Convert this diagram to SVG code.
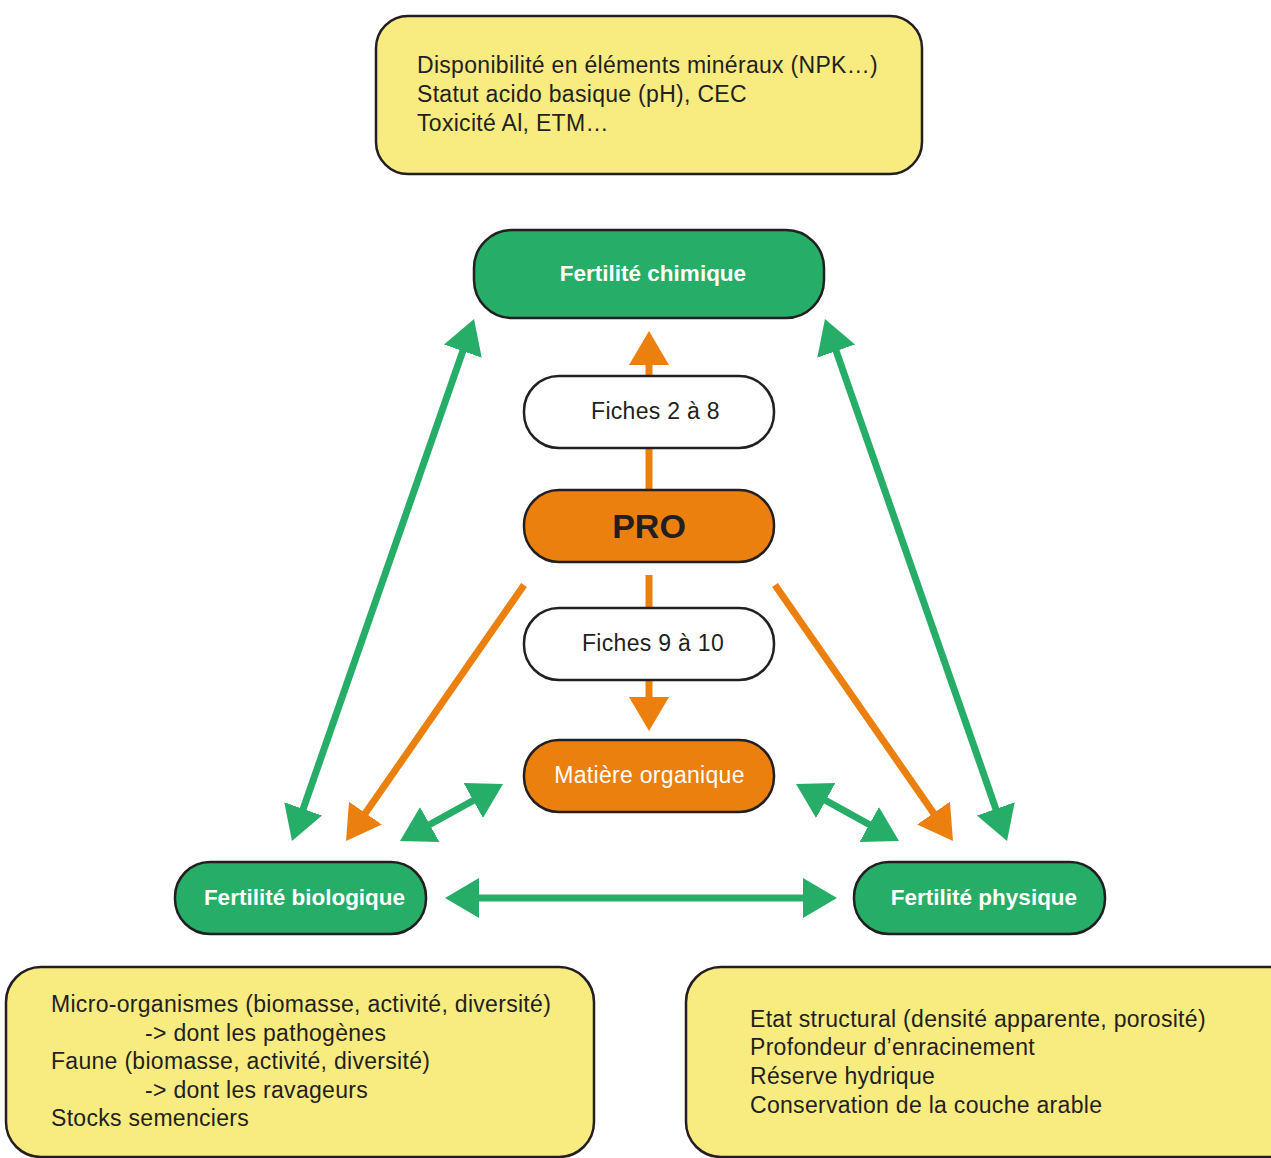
<svg xmlns="http://www.w3.org/2000/svg" width="1271" height="1158" viewBox="0 0 1271 1158">
<style>
.box{stroke:#231F20;stroke-width:2.5}
.yel{fill:#F8EB80}
.grn{fill:#26AD67}
.org{fill:#EB800F}
.wht{fill:#FFFFFF}
text{font-family:"Liberation Sans",Arial,sans-serif}
.body{font-size:23px;letter-spacing:0.3px;fill:#231F20}
.lbl{font-size:22.5px;font-weight:bold;fill:#FFFFFF;text-anchor:middle}
.ctr{text-anchor:middle}
.gl{stroke:#26AD67;stroke-width:7;fill:none}
.ol{stroke:#EB800F;stroke-width:7;fill:none}
.gA{marker-end:url(#ga)}
.gAA{marker-start:url(#ga);marker-end:url(#ga)}
.oA{marker-end:url(#oa)}
</style>
<defs>
<marker id="ga" markerUnits="userSpaceOnUse" markerWidth="36" markerHeight="42" refX="2" refY="20" orient="auto-start-reverse" viewBox="0 0 36 42">
<path d="M0,0 L34,20 L0,40 z" fill="#26AD67"/>
</marker>
<marker id="oa" markerUnits="userSpaceOnUse" markerWidth="36" markerHeight="42" refX="2" refY="20" orient="auto-start-reverse" viewBox="0 0 36 42">
<path d="M0,0 L34,20 L0,40 z" fill="#EB800F"/>
</marker>
</defs>
<rect width="1271" height="1158" fill="#FFFFFF"/>

<g id="connectors">
<line class="gl gAA" x1="302.5" y1="810.8" x2="463.5" y2="349.2"/>
<line class="gl gAA" x1="835.5" y1="349.2" x2="996.5" y2="810.8"/>
<line class="ol oA" x1="524" y1="585" x2="364.3" y2="814.7"/>
<line class="ol oA" x1="775" y1="585" x2="934.7" y2="814.7"/>
<line class="ol oA" x1="649" y1="490" x2="649" y2="363"/>
<line class="ol oA" x1="649" y1="575" x2="649" y2="699"/>
<line class="gl gAA" x1="428" y1="825.5" x2="475" y2="799.5"/>
<line class="gl gAA" x1="824" y1="799.5" x2="871" y2="825.5"/>
<line class="gl gAA" x1="477" y1="898" x2="805" y2="898"/>
</g>

<g id="info-chimique">
<rect class="box yel" x="376" y="16" width="546" height="158" rx="32"/>
<text class="body" x="417" y="73">Disponibilité en éléments minéraux (NPK…)</text>
<text class="body" x="417" y="102">Statut acido basique (pH), CEC</text>
<text class="body" x="417" y="131">Toxicité Al, ETM…</text>
</g>

<g id="fert-chimique">
<rect class="box grn" x="474" y="230" width="350" height="88" rx="38"/>
<text class="lbl" x="653" y="281">Fertilité chimique</text>
</g>

<g id="fiches-2-8">
<rect class="box wht" x="524" y="376" width="250" height="72" rx="35"/>
<text class="body ctr" x="655.5" y="419">Fiches 2 à 8</text>
</g>

<g id="pro">
<rect class="box org" x="524" y="490" width="250" height="72" rx="35"/>
<text class="ctr" x="649" y="537.5" style="font-size:34px;font-weight:bold;fill:#231F20">PRO</text>
</g>

<g id="fiches-9-10">
<rect class="box wht" x="524" y="608" width="250" height="72" rx="35"/>
<text class="body ctr" x="653" y="650.5">Fiches 9 à 10</text>
</g>

<g id="matiere-organique">
<rect class="box org" x="524" y="740" width="250" height="72" rx="35"/>
<text class="body ctr" x="649.5" y="782.5" style="fill:#FFFFFF">Matière organique</text>
</g>

<g id="fert-biologique">
<rect class="box grn" x="175" y="862" width="251" height="72" rx="35"/>
<text class="lbl" x="304.5" y="905">Fertilité biologique</text>
</g>

<g id="fert-physique">
<rect class="box grn" x="854" y="862" width="251" height="72" rx="35"/>
<text class="lbl" x="984" y="905">Fertilité physique</text>
</g>

<g id="info-biologique">
<rect class="box yel" x="6" y="967" width="588" height="190" rx="35"/>
<text class="body" x="51" y="1012">Micro-organismes (biomasse, activité, diversité)</text>
<text class="body" x="145" y="1041">-&gt; dont les pathogènes</text>
<text class="body" x="51" y="1069">Faune (biomasse, activité, diversité)</text>
<text class="body" x="145" y="1098">-&gt; dont les ravageurs</text>
<text class="body" x="51" y="1126">Stocks semenciers</text>
</g>

<g id="info-physique">
<rect class="box yel" x="686" y="967" width="620" height="190" rx="35"/>
<text class="body" x="750" y="1027">Etat structural (densité apparente, porosité)</text>
<text class="body" x="750" y="1055">Profondeur d’enracinement</text>
<text class="body" x="750" y="1084">Réserve hydrique</text>
<text class="body" x="750" y="1113">Conservation de la couche arable</text>
</g>
</svg>
